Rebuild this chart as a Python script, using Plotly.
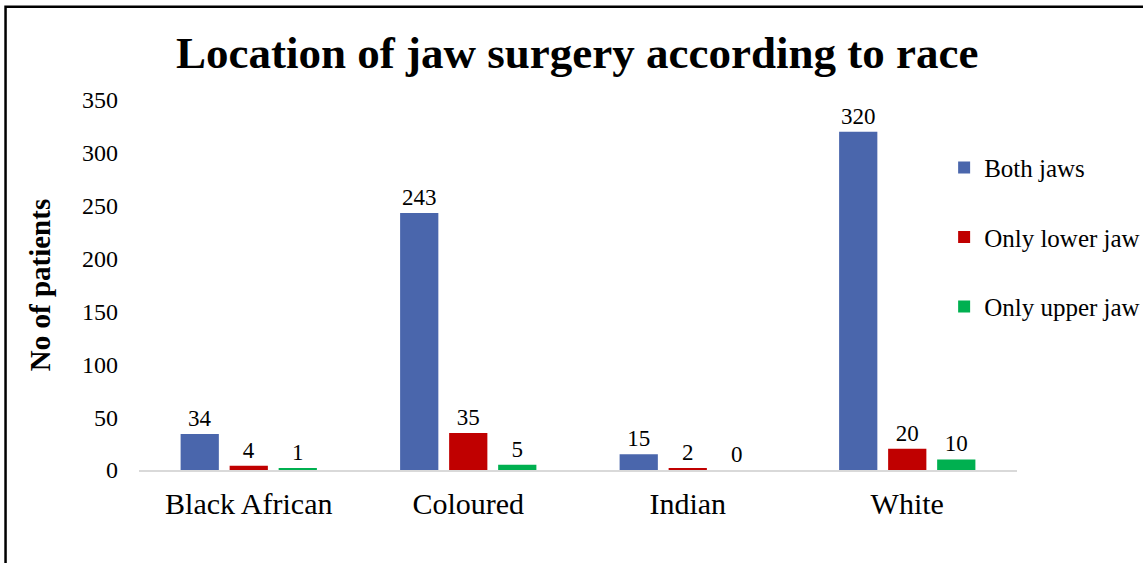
import plotly.graph_objects as go

# Datos
razas = ["Black African", "Coloured", "Indian", "White"]
ambos = [34, 243, 15, 320]
solo_inferior = [4, 35, 2, 20]
solo_superior = [1, 5, 0, 10]

series = [
    ("Both jaws", ambos, "#4a66ac"),
    ("Only lower jaw", solo_inferior, "#c00000"),
    ("Only upper jaw", solo_superior, "#00b050"),
]

fuente = "Liberation Serif, Times New Roman, serif"

fig = go.Figure()
for nombre, valores, color in series:
    fig.add_trace(go.Bar(
        x=razas,
        y=valores,
        name=nombre,
        legendgroup=nombre,
        marker=dict(color=color, line=dict(width=0)),
        text=valores,
        textposition="outside",
        textfont=dict(family=fuente, size=23, color="black"),
        cliponaxis=False,
    ))

fig.update_layout(
    width=1143,
    height=563,
    paper_bgcolor="white",
    plot_bgcolor="white",
    font=dict(family=fuente, color="black"),
    title=dict(
        text="<b>Location of jaw surgery according to race</b>",
        x=0.505, xanchor="center", y=0.908, yanchor="middle",
        font=dict(family=fuente, size=45, color="black"),
    ),
    margin=dict(l=139, r=126, t=100, b=93, autoexpand=False),
    barmode="group",
    bargap=0.33,
    bargroupgap=0.22,
    legend=dict(
        x=0.917, xanchor="left", y=0.879, yanchor="top",
        font=dict(family=fuente, size=25, color="black"),
        traceorder="grouped",
        tracegroupgap=34,
        bgcolor="rgba(0,0,0,0)",
    ),
    xaxis=dict(
        showline=True, linecolor="#d9d9d9", linewidth=2,
        ticks="", tickfont=dict(family=fuente, size=30, color="black"),
        ticklabelstandoff=6,
        showgrid=False,
    ),
    yaxis=dict(
        range=[0, 350], dtick=50, showgrid=False, zeroline=False,
        showline=False, ticks="", ticklen=0,
        ticklabelstandoff=20,
        tickfont=dict(family=fuente, size=24, color="black"),
        title=dict(text="<b>No of patients</b>", standoff=22,
                   font=dict(family=fuente, size=29, color="black")),
    ),
    shapes=[dict(
        type="rect", xref="paper", yref="paper",
        x0=-0.152, x1=1.2, y0=-0.5, y1=1.252,
        line=dict(color="black", width=2.5), fillcolor="rgba(0,0,0,0)",
        layer="above",
    )],
)

# quitamos el margen del body para que el grafico empiece en 0,0
fig.write_html(
    "out.html",
    config={"displayModeBar": False},
    post_script="document.body.style.margin='0px';",
)
